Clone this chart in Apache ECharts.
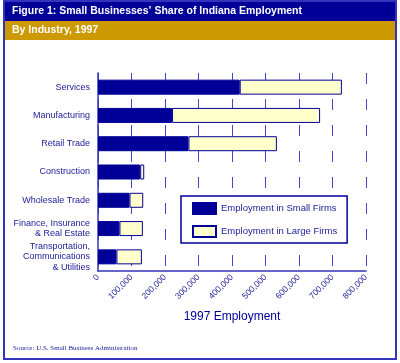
<!DOCTYPE html>
<html>
<head>
<meta charset="utf-8">
<script src="https://cdn.jsdelivr.net/npm/echarts@6/dist/echarts.min.js"></script>
<style>html,body{margin:0;padding:0;background:#fff;}#c{width:400px;height:363px;}</style>
</head>
<body>
<div id="c"></div>
<script>
const categories = ['Services', 'Manufacturing', 'Retail Trade', 'Construction', 'Wholesale Trade', 'Finance, Insurance\n& Real Estate', 'Transportation,\nCommunications\n& Utilities'];
const smallFirms = [423000, 221000, 270000, 126000, 94000, 64000, 55000];
const largeFirms = [305000, 442000, 264000, 12000, 41000, 70000, 76000];
const xTicks = [0, 100000, 200000, 300000, 400000, 500000, 600000, 700000, 800000];

const BLUE = '#000099';
const TXT = '#22229a';
const chart = echarts.init(document.getElementById('c'));
chart.setOption({
  animation: false,
  backgroundColor: '#fff',
  textStyle: { fontFamily: 'Liberation Sans' },
  grid: { left: 98, right: 34, top: 73, bottom: 92, containLabel: false },
  xAxis: {
    type: 'value',
    min: xTicks[0], max: xTicks[xTicks.length - 1], interval: xTicks[1] - xTicks[0],
    name: '1997 Employment', nameLocation: 'middle', nameGap: 40,
    nameTextStyle: { color: BLUE, fontSize: 12, fontFamily: 'Liberation Sans' },
    axisLine: { show: true, lineStyle: { color: '#3333bb', width: 1.5 } },
    axisTick: { show: false },
    axisLabel: { rotate: 45, margin: 5, fontSize: 8.5, color: TXT,
      formatter: v => v.toLocaleString('en-US') },
    splitLine: { show: true, lineStyle: { color: '#4444cc', width: 1, type: [11, 15] } }
  },
  yAxis: {
    type: 'category', data: categories, inverse: true,
    axisLine: { show: true, lineStyle: { color: '#3333bb', width: 1.5 } },
    axisTick: { show: false },
    axisLabel: { fontSize: 9, color: TXT, margin: 8, align: 'right', lineHeight: 10.5 }
  },
  legend: {
    orient: 'vertical', left: 181, top: 196, icon: 'rect',
    backgroundColor: '#fff', borderColor: BLUE, borderWidth: 1.5,
    padding: [6, 10, 5, 11], itemWidth: 23, itemHeight: 11, itemGap: 10, itemTextGap: 11,
    textStyle: { fontSize: 9.5, color: TXT, fontFamily: 'Liberation Sans' },
    data: ['Employment in Small Firms', 'Employment in Large Firms']
  },
  series: [
    { name: 'Employment in Small Firms', type: 'bar', stack: 'e', barWidth: 15, data: smallFirms,
      itemStyle: { color: BLUE, borderColor: BLUE, borderWidth: 1 } },
    { name: 'Employment in Large Firms', type: 'bar', stack: 'e', barWidth: 15, data: largeFirms,
      itemStyle: { color: '#ffffcc', borderColor: BLUE, borderWidth: 1 } }
  ],
  graphic: [
    { type: 'rect', shape: { x: 3, y: 2, width: 393, height: 19 }, style: { fill: BLUE }, z: 10 },
    { type: 'rect', shape: { x: 3, y: 21, width: 393, height: 19 }, style: { fill: '#cc9900' }, z: 10 },
    { type: 'text', left: 12, top: 6, z: 11,
      style: { text: 'Figure 1: Small Businesses’ Share of Indiana Employment', fill: '#fff', font: 'bold 10.5px "Liberation Sans"' } },
    { type: 'text', left: 12, top: 25, z: 11,
      style: { text: 'By Industry, 1997', fill: '#fff', font: 'bold 10.5px "Liberation Sans"' } },
    { type: 'rect', shape: { x: 4, y: 1, width: 392, height: 358 }, style: { fill: 'none', stroke: '#3333bb', lineWidth: 2 }, z: 12 },
    { type: 'text', left: 13, top: 345, z: 11,
      style: { text: 'Source: U.S. Small Business Administration', fill: TXT, font: '7px "Liberation Serif"' } }
  ]
});
</script>
</body>
</html>
